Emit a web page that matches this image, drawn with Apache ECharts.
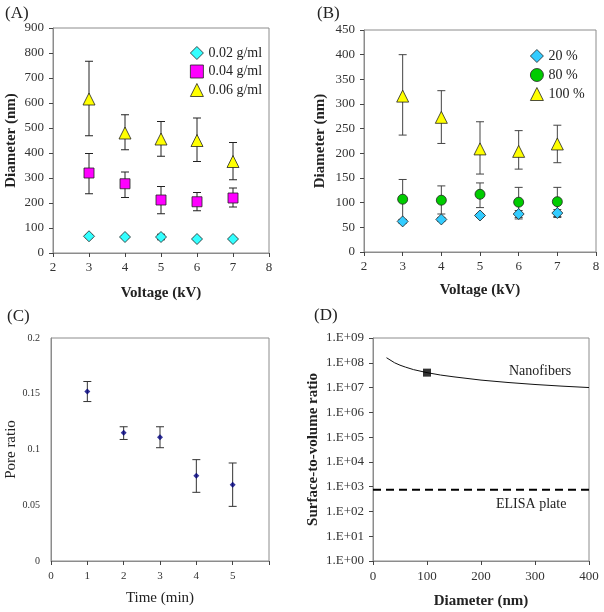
<!DOCTYPE html>
<html>
<head>
<meta charset="utf-8">
<script src="https://cdn.jsdelivr.net/npm/echarts@6/dist/echarts.min.js"></script>
<style>
  html, body { margin: 0; padding: 0; background: #fff; }
  #chart { width: 604px; height: 612px; }
</style>
</head>
<body>
<div id="chart"></div>
<script>
'use strict'

// (A) diameter vs voltage, by concentration
var voltage = [3, 4, 5, 6, 7];
var a002 = [67, 64, 64, 56, 56];
var a002Lo = [61, 58, 53, 51, 51];
var a002Hi = [73, 70, 75, 61, 61];
var a004 = [320, 277, 212, 205, 220];
var a004Lo = [237, 222, 157, 169, 184];
var a004Hi = [398, 324, 266, 242, 260];
var a006 = [616, 480, 456, 450, 366];
var a006Lo = [469, 413, 387, 366, 293];
var a006Hi = [767, 553, 526, 540, 442];

// (B) diameter vs voltage, by percentage
var b20 = [62, 66, 74, 77, 79];
var b20Lo = [58, 62, 70, 70, 72];
var b20Hi = [66, 70, 78, 84, 86];
var b80 = [107, 105, 117, 101, 102];
var b80Lo = [66, 77, 90, 67, 70];
var b80Hi = [147, 134, 140, 131, 131];
var b100 = [316, 273, 209, 204, 219];
var b100Lo = [237, 220, 158, 168, 181];
var b100Hi = [400, 327, 264, 246, 257];

// (C) pore ratio vs time
var time = [1, 2, 3, 4, 5];
var pore = [0.152, 0.115, 0.111, 0.0765, 0.0684];
var poreLo = [0.143, 0.109, 0.1016, 0.0616, 0.049];
var poreHi = [0.161, 0.1204, 0.1204, 0.0909, 0.0879];

// (D) surface-to-volume ratio vs diameter
var diam = [25, 40, 50, 60, 75, 100, 125, 150, 200, 250, 300, 350, 400];
var ratio = [1.6e8, 1.0e8, 8.0e7, 6.7e7, 5.3e7, 4.0e7, 3.2e7, 2.7e7, 2.0e7, 1.6e7, 1.33e7, 1.14e7, 1.0e7];
var markDiam = [100];
var markRatio = [4.0e7];
var elisaX = [0, 400];
var elisaY = [750, 750];

var FONT = "'Liberation Serif', 'DejaVu Serif', serif";
var AXIS_GRAY = '#8c8c8c';

function pairs(xs, ys) {
    return xs.map(function (x, i) { return [x, ys[i]]; });
}
function triples(xs, lo, hi) {
    return xs.map(function (x, i) { return [x, lo[i], hi[i]]; });
}

function errorSeries(idx, xs, lo, hi, color) {
    return {
        type: 'custom',
        xAxisIndex: idx,
        yAxisIndex: idx,
        z: 1,
        silent: true,
        encode: { x: 0, y: [1, 2] },
        data: triples(xs, lo, hi),
        renderItem: function (params, api) {
            var x = api.value(0);
            var pLo = api.coord([x, api.value(1)]);
            var pHi = api.coord([x, api.value(2)]);
            var w = 4;
            var st = { stroke: color, lineWidth: 1 };
            return {
                type: 'group',
                children: [
                    { type: 'line', shape: { x1: pHi[0], y1: pHi[1], x2: pLo[0], y2: pLo[1] }, style: st },
                    { type: 'line', shape: { x1: pHi[0] - w, y1: pHi[1], x2: pHi[0] + w, y2: pHi[1] }, style: st },
                    { type: 'line', shape: { x1: pLo[0] - w, y1: pLo[1], x2: pLo[0] + w, y2: pLo[1] }, style: st }
                ]
            };
        }
    };
}

function pointSeries(idx, name, xs, ys, symbol, size, color) {
    return {
        name: name,
        type: 'scatter',
        xAxisIndex: idx,
        yAxisIndex: idx,
        z: 3,
        symbol: symbol,
        symbolSize: size,
        itemStyle: { color: color, borderColor: '#222', borderWidth: 0.8, opacity: 1 },
        data: pairs(xs, ys)
    };
}

function valueX(idx, min, max, name, extra) {
    var ax = {
        gridIndex: idx, type: 'value', min: min, max: max, interval: 1,
        name: name, nameLocation: 'middle', nameGap: 33,
        nameTextStyle: { fontFamily: FONT, fontSize: 15, fontWeight: 'bold', color: '#222' },
        axisLine: { lineStyle: { color: AXIS_GRAY } },
        axisTick: { show: true, length: 4, lineStyle: { color: '#444' } },
        axisLabel: { fontFamily: FONT, fontSize: 13, color: '#333', margin: 8 },
        splitLine: { show: false }
    };
    return Object.assign(ax, extra || {});
}
function valueY(idx, min, max, interval, name, extra) {
    var ax = {
        gridIndex: idx, type: 'value', min: min, max: max, interval: interval,
        name: name, nameLocation: 'middle', nameGap: 34,
        nameTextStyle: { fontFamily: FONT, fontSize: 15, fontWeight: 'bold', color: '#222' },
        axisLine: { show: true, lineStyle: { color: AXIS_GRAY } },
        axisTick: { show: true, length: 4, lineStyle: { color: '#444' } },
        axisLabel: { fontFamily: FONT, fontSize: 13, color: '#333', margin: 9 },
        splitLine: { show: false }
    };
    return Object.assign(ax, extra || {});
}

var chart = echarts.init(document.getElementById('chart'));

chart.setOption({
    backgroundColor: '#fff',
    animation: false,
    grid: [
        { left: 53, top: 28, width: 216, height: 225, show: true, borderColor: AXIS_GRAY, borderWidth: 1 },
        { left: 364, top: 30, width: 232, height: 222, show: true, borderColor: AXIS_GRAY, borderWidth: 1 },
        { left: 51, top: 338, width: 218, height: 223, show: true, borderColor: AXIS_GRAY, borderWidth: 1 },
        { left: 373, top: 338, width: 216, height: 223, show: true, borderColor: AXIS_GRAY, borderWidth: 1 }
    ],
    xAxis: [
        valueX(0, 2, 8, 'Voltage (kV)'),
        valueX(1, 2, 8, 'Voltage (kV)', { nameGap: 31 }),
        valueX(2, 0, 6, 'Time (min)', {
            nameGap: 30,
            nameTextStyle: { fontFamily: FONT, fontSize: 15, fontWeight: 'normal', color: '#222' },
            axisLabel: {
                fontFamily: FONT, fontSize: 11, color: '#333', margin: 10,
                formatter: function (v) { return v === 6 ? '' : String(v); }
            }
        }),
        valueX(3, 0, 400, 'Diameter (nm)', {
            interval: 100, nameGap: 33,
            axisLabel: { fontFamily: FONT, fontSize: 13, color: '#333', margin: 9 }
        })
    ],
    yAxis: [
        valueY(0, 0, 900, 100, 'Diameter (nm)'),
        valueY(1, 0, 450, 50, 'Diameter (nm)', { nameGap: 36 }),
        valueY(2, 0, 0.2, 0.05, 'Pore ratio', {
            nameGap: 31,
            nameTextStyle: { fontFamily: FONT, fontSize: 15, fontWeight: 'normal', color: '#222' },
            axisTick: { show: false },
            axisLabel: { fontFamily: FONT, fontSize: 10, color: '#333', margin: 11 }
        }),
        {
            gridIndex: 3, type: 'log', logBase: 10, min: 1, max: 1e9,
            name: 'Surface-to-volume ratio', nameLocation: 'middle', nameGap: 52,
            nameTextStyle: { fontFamily: FONT, fontSize: 15, fontWeight: 'bold', color: '#222' },
            axisLine: { show: true, lineStyle: { color: AXIS_GRAY } },
            axisTick: { show: true, length: 4, lineStyle: { color: '#444' } },
            minorTick: { show: false },
            axisLabel: {
                fontFamily: FONT, fontSize: 13, color: '#333', margin: 9,
                formatter: function (v) {
                    var e = Math.round(Math.log10(v));
                    return '1.E+' + (e < 10 ? '0' : '') + e;
                }
            },
            splitLine: { show: false }
        }
    ],
    legend: [
        {
            orient: 'vertical', left: 185, top: 41, itemGap: 4.5, itemWidth: 13, itemHeight: 13,
            itemStyle: { borderWidth: 0.8 },
            textStyle: { fontFamily: FONT, fontSize: 14, color: '#222' },
            data: ['0.02 g/ml', '0.04 g/ml', '0.06 g/ml']
        },
        {
            orient: 'vertical', left: 525, top: 44, itemGap: 5, itemWidth: 13, itemHeight: 13,
            itemStyle: { borderWidth: 0.8 },
            textStyle: { fontFamily: FONT, fontSize: 14, color: '#222' },
            data: ['20 %', '80 %', '100 %']
        }
    ],
    graphic: [
        { type: 'text', left: 5, top: 5, style: { text: '(A)', font: '17px ' + FONT, fill: '#222' } },
        { type: 'text', left: 317, top: 5, style: { text: '(B)', font: '17px ' + FONT, fill: '#222' } },
        { type: 'text', left: 7, top: 308, style: { text: '(C)', font: '17px ' + FONT, fill: '#222' } },
        { type: 'text', left: 314, top: 307, style: { text: '(D)', font: '17px ' + FONT, fill: '#222' } },
        { type: 'text', left: 509, top: 364, style: { text: 'Nanofibers', font: '14px ' + FONT, fill: '#222' } },
        { type: 'text', left: 496, top: 497, style: { text: 'ELISA plate', font: '14px ' + FONT, fill: '#222' } }
    ],
    series: [
        // A
        errorSeries(0, voltage, a002Lo, a002Hi, '#222'),
        errorSeries(0, voltage, a004Lo, a004Hi, '#222'),
        errorSeries(0, voltage, a006Lo, a006Hi, '#222'),
        pointSeries(0, '0.02 g/ml', voltage, a002, 'diamond', 11, '#33ffff'),
        pointSeries(0, '0.04 g/ml', voltage, a004, 'rect', 10, '#ff00ff'),
        pointSeries(0, '0.06 g/ml', voltage, a006, 'triangle', 12, '#ffff00'),
        // B
        errorSeries(1, voltage, b20Lo, b20Hi, '#444'),
        errorSeries(1, voltage, b80Lo, b80Hi, '#444'),
        errorSeries(1, voltage, b100Lo, b100Hi, '#444'),
        pointSeries(1, '20 %', voltage, b20, 'diamond', 11, '#33ccff'),
        pointSeries(1, '80 %', voltage, b80, 'circle', 10, '#00cc00'),
        pointSeries(1, '100 %', voltage, b100, 'triangle', 12, '#ffff00'),
        // C
        errorSeries(2, time, poreLo, poreHi, '#333'),
        {
            type: 'scatter', xAxisIndex: 2, yAxisIndex: 2, z: 3,
            symbol: 'diamond', symbolSize: 6,
            itemStyle: { color: '#000080' },
            data: pairs(time, pore)
        },
        // D
        {
            type: 'line', xAxisIndex: 3, yAxisIndex: 3, showSymbol: false,
            lineStyle: { color: '#111', width: 1 },
            data: pairs(diam, ratio)
        },
        {
            type: 'scatter', xAxisIndex: 3, yAxisIndex: 3, z: 4,
            symbol: 'rect', symbolSize: 8,
            itemStyle: { color: '#000' },
            data: pairs(markDiam, markRatio)
        },
        {
            type: 'line', xAxisIndex: 3, yAxisIndex: 3, showSymbol: false,
            lineStyle: { color: '#000', width: 2, type: [8, 5] },
            data: pairs(elisaX, elisaY)
        }
    ]
});
</script>
</body>
</html>
